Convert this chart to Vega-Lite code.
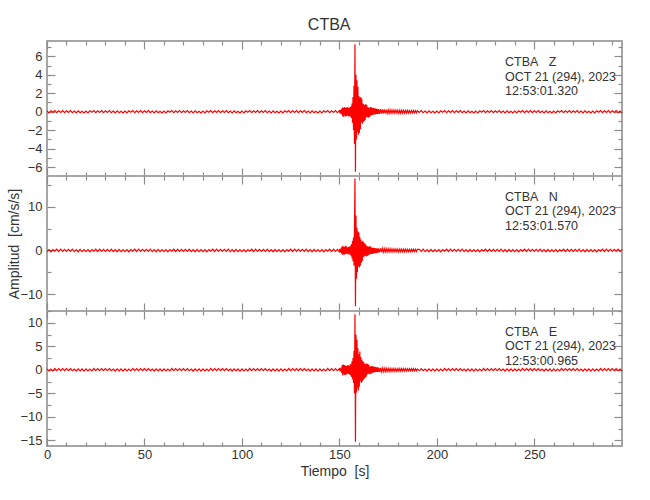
{
"$schema": "https://vega.github.io/schema/vega-lite/v6.json",
"title": {"text": "CTBA", "fontSize": 16, "font": "Liberation Sans", "fontWeight": "normal", "color": "#333333", "offset": 6, "anchor": "middle", "dx": 13},
"padding": {"left": 6, "top": 17, "right": 20, "bottom": 10},
"spacing": 0,
"bounds": "flush",
"datasets": {"w": [
{"t":0,"z":0.08,"n":-0.25,"e":0.2},{"t":1,"z":-0.12,"n":0.2,"e":-0.25},{"t":2,"z":0.1,"n":-0.3,"e":0.15},{"t":3,"z":-0.06,"n":0.22,"e":-0.22},{"t":4,"z":0.13,"n":-0.18,"e":0.28},{"t":5,"z":-0.09,"n":0.28,"e":-0.18},{"t":6,"z":0.11,"n":-0.24,"e":0.24},{"t":7,"z":-0.07,"n":0.3,"e":-0.2},{"t":8,"z":0.12,"n":-0.2,"e":0.26},{"t":9,"z":-0.1,"n":0.26,"e":-0.16},
{"t":10,"z":0.11,"n":-0.2,"e":0.24},{"t":11,"z":-0.08,"n":0.27,"e":-0.17},{"t":12,"z":0.13,"n":-0.22,"e":0.27},{"t":13,"z":-0.1,"n":0.3,"e":-0.2},{"t":14,"z":0.07,"n":-0.26,"e":0.16},{"t":15,"z":-0.12,"n":0.19,"e":-0.26},{"t":16,"z":0.09,"n":-0.29,"e":0.21},{"t":17,"z":-0.11,"n":0.23,"e":-0.23},{"t":18,"z":0.06,"n":-0.27,"e":0.18},{"t":19,"z":-0.13,"n":0.21,"e":-0.27},
{"t":20,"z":0.08,"n":-0.25,"e":0.2},{"t":21,"z":-0.12,"n":0.2,"e":-0.25},{"t":22,"z":0.1,"n":-0.3,"e":0.15},{"t":23,"z":-0.06,"n":0.22,"e":-0.22},{"t":24,"z":0.13,"n":-0.18,"e":0.28},{"t":25,"z":-0.09,"n":0.28,"e":-0.18},{"t":26,"z":0.11,"n":-0.24,"e":0.24},{"t":27,"z":-0.07,"n":0.3,"e":-0.2},{"t":28,"z":0.12,"n":-0.2,"e":0.26},{"t":29,"z":-0.1,"n":0.26,"e":-0.16},
{"t":30,"z":0.11,"n":-0.2,"e":0.24},{"t":31,"z":-0.08,"n":0.27,"e":-0.17},{"t":32,"z":0.13,"n":-0.22,"e":0.27},{"t":33,"z":-0.1,"n":0.3,"e":-0.2},{"t":34,"z":0.07,"n":-0.26,"e":0.16},{"t":35,"z":-0.12,"n":0.19,"e":-0.26},{"t":36,"z":0.09,"n":-0.29,"e":0.21},{"t":37,"z":-0.11,"n":0.23,"e":-0.23},{"t":38,"z":0.06,"n":-0.27,"e":0.18},{"t":39,"z":-0.13,"n":0.21,"e":-0.27},
{"t":40,"z":0.08,"n":-0.25,"e":0.2},{"t":41,"z":-0.12,"n":0.2,"e":-0.25},{"t":42,"z":0.1,"n":-0.3,"e":0.15},{"t":43,"z":-0.06,"n":0.22,"e":-0.22},{"t":44,"z":0.13,"n":-0.18,"e":0.28},{"t":45,"z":-0.09,"n":0.28,"e":-0.18},{"t":46,"z":0.11,"n":-0.24,"e":0.24},{"t":47,"z":-0.07,"n":0.3,"e":-0.2},{"t":48,"z":0.12,"n":-0.2,"e":0.26},{"t":49,"z":-0.1,"n":0.26,"e":-0.16},
{"t":50,"z":0.11,"n":-0.2,"e":0.24},{"t":51,"z":-0.08,"n":0.27,"e":-0.17},{"t":52,"z":0.13,"n":-0.22,"e":0.27},{"t":53,"z":-0.1,"n":0.3,"e":-0.2},{"t":54,"z":0.07,"n":-0.26,"e":0.16},{"t":55,"z":-0.12,"n":0.19,"e":-0.26},{"t":56,"z":0.09,"n":-0.29,"e":0.21},{"t":57,"z":-0.11,"n":0.23,"e":-0.23},{"t":58,"z":0.06,"n":-0.27,"e":0.18},{"t":59,"z":-0.13,"n":0.21,"e":-0.27},
{"t":60,"z":0.08,"n":-0.25,"e":0.2},{"t":61,"z":-0.12,"n":0.2,"e":-0.25},{"t":62,"z":0.1,"n":-0.3,"e":0.15},{"t":63,"z":-0.06,"n":0.22,"e":-0.22},{"t":64,"z":0.13,"n":-0.18,"e":0.28},{"t":65,"z":-0.09,"n":0.28,"e":-0.18},{"t":66,"z":0.11,"n":-0.24,"e":0.24},{"t":67,"z":-0.07,"n":0.3,"e":-0.2},{"t":68,"z":0.12,"n":-0.2,"e":0.26},{"t":69,"z":-0.1,"n":0.26,"e":-0.16},
{"t":70,"z":0.11,"n":-0.2,"e":0.24},{"t":71,"z":-0.08,"n":0.27,"e":-0.17},{"t":72,"z":0.13,"n":-0.22,"e":0.27},{"t":73,"z":-0.1,"n":0.3,"e":-0.2},{"t":74,"z":0.07,"n":-0.26,"e":0.16},{"t":75,"z":-0.12,"n":0.19,"e":-0.26},{"t":76,"z":0.09,"n":-0.29,"e":0.21},{"t":77,"z":-0.11,"n":0.23,"e":-0.23},{"t":78,"z":0.06,"n":-0.27,"e":0.18},{"t":79,"z":-0.13,"n":0.21,"e":-0.27},
{"t":80,"z":0.08,"n":-0.25,"e":0.2},{"t":81,"z":-0.12,"n":0.2,"e":-0.25},{"t":82,"z":0.1,"n":-0.3,"e":0.15},{"t":83,"z":-0.06,"n":0.22,"e":-0.22},{"t":84,"z":0.13,"n":-0.18,"e":0.28},{"t":85,"z":-0.09,"n":0.28,"e":-0.18},{"t":86,"z":0.11,"n":-0.24,"e":0.24},{"t":87,"z":-0.07,"n":0.3,"e":-0.2},{"t":88,"z":0.12,"n":-0.2,"e":0.26},{"t":89,"z":-0.1,"n":0.26,"e":-0.16},
{"t":90,"z":0.11,"n":-0.2,"e":0.24},{"t":91,"z":-0.08,"n":0.27,"e":-0.17},{"t":92,"z":0.13,"n":-0.22,"e":0.27},{"t":93,"z":-0.1,"n":0.3,"e":-0.2},{"t":94,"z":0.07,"n":-0.26,"e":0.16},{"t":95,"z":-0.12,"n":0.19,"e":-0.26},{"t":96,"z":0.09,"n":-0.29,"e":0.21},{"t":97,"z":-0.11,"n":0.23,"e":-0.23},{"t":98,"z":0.06,"n":-0.27,"e":0.18},{"t":99,"z":-0.13,"n":0.21,"e":-0.27},
{"t":100,"z":0.08,"n":-0.25,"e":0.2},{"t":101,"z":-0.12,"n":0.2,"e":-0.25},{"t":102,"z":0.1,"n":-0.3,"e":0.15},{"t":103,"z":-0.06,"n":0.22,"e":-0.22},{"t":104,"z":0.13,"n":-0.18,"e":0.28},{"t":105,"z":-0.09,"n":0.28,"e":-0.18},{"t":106,"z":0.11,"n":-0.24,"e":0.24},{"t":107,"z":-0.07,"n":0.3,"e":-0.2},{"t":108,"z":0.12,"n":-0.2,"e":0.26},{"t":109,"z":-0.1,"n":0.26,"e":-0.16},
{"t":110,"z":0.11,"n":-0.2,"e":0.24},{"t":111,"z":-0.08,"n":0.27,"e":-0.17},{"t":112,"z":0.13,"n":-0.22,"e":0.27},{"t":113,"z":-0.1,"n":0.3,"e":-0.2},{"t":114,"z":0.07,"n":-0.26,"e":0.16},{"t":115,"z":-0.12,"n":0.19,"e":-0.26},{"t":116,"z":0.09,"n":-0.29,"e":0.21},{"t":117,"z":-0.11,"n":0.23,"e":-0.23},{"t":118,"z":0.06,"n":-0.27,"e":0.18},{"t":119,"z":-0.13,"n":0.21,"e":-0.27},
{"t":120,"z":0.08,"n":-0.25,"e":0.2},{"t":121,"z":-0.12,"n":0.2,"e":-0.25},{"t":122,"z":0.1,"n":-0.3,"e":0.15},{"t":123,"z":-0.06,"n":0.22,"e":-0.22},{"t":124,"z":0.13,"n":-0.18,"e":0.28},{"t":125,"z":-0.09,"n":0.28,"e":-0.18},{"t":126,"z":0.11,"n":-0.24,"e":0.24},{"t":127,"z":-0.07,"n":0.3,"e":-0.2},{"t":128,"z":0.12,"n":-0.2,"e":0.26},{"t":129,"z":-0.1,"n":0.26,"e":-0.16},
{"t":130,"z":0.11,"n":-0.2,"e":0.24},{"t":131,"z":-0.08,"n":0.27,"e":-0.17},{"t":132,"z":0.13,"n":-0.22,"e":0.27},{"t":133,"z":-0.1,"n":0.3,"e":-0.2},{"t":134,"z":0.07,"n":-0.26,"e":0.16},{"t":135,"z":-0.12,"n":0.19,"e":-0.26},{"t":136,"z":0.09,"n":-0.29,"e":0.21},{"t":137,"z":-0.11,"n":0.23,"e":-0.23},{"t":138,"z":0.06,"n":-0.27,"e":0.18},{"t":139,"z":-0.13,"n":0.21,"e":-0.27},
{"t":140,"z":0.08,"n":-0.25,"e":0.2},{"t":141,"z":-0.12,"n":0.2,"e":-0.25},{"t":142,"z":0.1,"n":-0.3,"e":0.15},{"t":143,"z":-0.06,"n":0.22,"e":-0.22},{"t":144,"z":0.13,"n":-0.18,"e":0.28},{"t":145,"z":-0.09,"n":0.28,"e":-0.18},{"t":146,"z":0.11,"n":-0.24,"e":0.24},{"t":147,"z":-0.07,"n":0.3,"e":-0.2},{"t":148,"z":0.12,"n":-0.2,"e":0.26},{"t":149,"z":-0.1,"n":0.26,"e":-0.16},
{"t":150,"z":0.12,"n":-0.3,"e":0.25},{"t":150.25,"z":-0.15,"n":0.35,"e":-0.3},{"t":150.5,"z":0.18,"n":-0.4,"e":0.3},{"t":150.75,"z":-0.2,"n":0.45,"e":-0.35},
{"t":151,"z":0.25,"n":-0.6,"e":0.5},{"t":151.25,"z":-0.3,"n":0.8,"e":-0.7},{"t":151.5,"z":0.45,"n":-1.0,"e":1.0},{"t":151.75,"z":-0.5,"n":1.1,"e":-1.2},
{"t":152,"z":0.4,"n":-0.9,"e":1.1},{"t":152.25,"z":-0.55,"n":0.8,"e":-0.9},{"t":152.5,"z":0.5,"n":-1.0,"e":1.0},{"t":152.75,"z":-0.4,"n":0.9,"e":-1.1},
{"t":153,"z":0.45,"n":-0.8,"e":0.9},{"t":153.25,"z":-0.5,"n":1.0,"e":-1.0},{"t":153.5,"z":0.4,"n":-0.7,"e":0.8},{"t":153.75,"z":-0.45,"n":0.9,"e":-1.0},
{"t":154,"z":0.5,"n":-0.8,"e":0.9},{"t":154.25,"z":-0.4,"n":0.7,"e":-0.8},{"t":154.5,"z":0.45,"n":-0.9,"e":1.0},{"t":154.75,"z":-0.5,"n":0.8,"e":-0.9},
{"t":155,"z":0.4,"n":-0.7,"e":0.8},{"t":155.25,"z":-0.45,"n":0.9,"e":-1.0},{"t":155.5,"z":0.5,"n":-1.0,"e":1.1},{"t":155.75,"z":-0.55,"n":1.1,"e":-1.2},
{"t":156,"z":0.6,"n":-1.2,"e":1.3},{"t":156.25,"z":-0.7,"n":1.5,"e":-1.5},{"t":156.5,"z":0.9,"n":-1.8,"e":1.8},{"t":156.75,"z":-1.2,"n":2.2,"e":-2.0},
{"t":157,"z":1.6,"n":-2.5,"e":2.5},{"t":157.25,"z":-2.0,"n":3.0,"e":-2.8},{"t":157.5,"z":2.8,"n":-3.5,"e":4.0},{"t":157.75,"z":-3.5,"n":5.0,"e":-5.0},
{"t":158,"z":7.3,"n":16.5,"e":11.8},{"t":158.25,"z":-6.5,"n":-12.8,"e":-15.3},{"t":158.5,"z":4.0,"n":8.0,"e":7.5},{"t":158.75,"z":-3.0,"n":-6.5,"e":-4.8},
{"t":159,"z":3.4,"n":5.2,"e":6.4},{"t":159.25,"z":-2.2,"n":-5.0,"e":-3.9},{"t":159.5,"z":2.7,"n":4.4,"e":4.6},{"t":159.75,"z":-2.5,"n":-3.6,"e":-4.4},
{"t":160,"z":1.7,"n":4.1,"e":3.3},{"t":160.25,"z":-2.3,"n":-3.9,"e":-3.6},{"t":160.5,"z":1.5,"n":3.1,"e":3.9},{"t":160.75,"z":-1.9,"n":-3.5,"e":-2.4},
{"t":161,"z":1.6,"n":2.5,"e":2.7},{"t":161.25,"z":-1.1,"n":-2.9,"e":-2.8},{"t":161.5,"z":1.4,"n":2.0,"e":2.2},{"t":161.75,"z":-1.3,"n":-2.4,"e":-2.5},
{"t":162,"z":0.9,"n":2.2,"e":1.8},{"t":162.25,"z":-1.1,"n":-1.5,"e":-2.1},{"t":162.5,"z":0.8,"n":1.9,"e":1.6},{"t":162.75,"z":-1.0,"n":-1.4,"e":-1.9},
{"t":163,"z":0.7,"n":1.6,"e":1.3},{"t":163.25,"z":-0.9,"n":-1.2,"e":-1.7},{"t":163.5,"z":0.8,"n":1.45,"e":1.2},{"t":163.75,"z":-0.55,"n":-1.35,"e":-1.45},
{"t":164,"z":0.75,"n":1.0,"e":1.35},{"t":164.25,"z":-0.6,"n":-1.25,"e":-1.0},{"t":164.5,"z":0.5,"n":0.95,"e":1.2},{"t":164.75,"z":-0.65,"n":-1.1,"e":-0.9},
{"t":165,"z":0.45,"n":0.85,"e":1.1},{"t":165.25,"z":-0.6,"n":-1.0,"e":-0.8},{"t":165.5,"z":0.42,"n":0.95,"e":0.75},{"t":165.75,"z":-0.52,"n":-0.75,"e":-0.95},
{"t":166,"z":0.5,"n":0.9,"e":0.7},{"t":166.25,"z":-0.38,"n":-0.85,"e":-0.85},{"t":166.5,"z":0.46,"n":0.68,"e":0.78},{"t":166.75,"z":-0.35,"n":-0.8,"e":-0.62},
{"t":167,"z":0.42,"n":0.62,"e":0.76},{"t":167.25,"z":-0.33,"n":-0.72,"e":-0.6},{"t":167.5,"z":0.4,"n":0.6,"e":0.68},{"t":167.75,"z":-0.3,"n":-0.66,"e":-0.58},
{"t":168,"z":0.37,"n":0.56,"e":0.62},{"t":168.25,"z":-0.28,"n":-0.62,"e":-0.5},{"t":168.5,"z":0.34,"n":0.52,"e":0.58},{"t":168.75,"z":-0.27,"n":-0.6,"e":-0.48},
{"t":169,"z":0.32,"n":0.48,"e":0.55},{"t":169.25,"z":-0.25,"n":-0.56,"e":-0.45},{"t":169.5,"z":0.3,"n":0.46,"e":0.52},{"t":169.75,"z":-0.24,"n":-0.52,"e":-0.43},
{"t":170,"z":0.28,"n":0.5,"e":0.46},{"t":170.5,"z":-0.22,"n":-0.42,"e":-0.45},{"t":171,"z":0.27,"n":0.48,"e":0.38},{"t":171.5,"z":-0.2,"n":-0.4,"e":-0.43},
{"t":172,"z":0.26,"n":0.46,"e":0.36},{"t":172.5,"z":-0.19,"n":-0.38,"e":-0.41},{"t":173,"z":0.24,"n":0.44,"e":0.34},{"t":173.5,"z":-0.18,"n":-0.37,"e":-0.39},
{"t":174,"z":0.23,"n":0.42,"e":0.32},{"t":174.5,"z":-0.18,"n":-0.35,"e":-0.37},{"t":175,"z":0.21,"n":0.4,"e":0.3},{"t":175.5,"z":-0.17,"n":-0.34,"e":-0.35},
{"t":176,"z":0.2,"n":0.38,"e":0.29},{"t":176.5,"z":-0.16,"n":-0.32,"e":-0.34},{"t":177,"z":0.19,"n":0.36,"e":0.27},{"t":177.5,"z":-0.15,"n":-0.31,"e":-0.32},
{"t":178,"z":0.18,"n":0.34,"e":0.26},{"t":178.5,"z":-0.15,"n":-0.3,"e":-0.31},{"t":179,"z":0.17,"n":0.32,"e":0.25},{"t":179.5,"z":-0.14,"n":-0.29,"e":-0.3},
{"t":180,"z":0.16,"n":0.3,"e":0.24},{"t":180.5,"z":-0.17,"n":-0.32,"e":-0.28},{"t":181,"z":0.16,"n":0.31,"e":0.27},{"t":181.5,"z":-0.16,"n":-0.31,"e":-0.27},
{"t":182,"z":0.16,"n":0.3,"e":0.26},{"t":182.5,"z":-0.15,"n":-0.3,"e":-0.26},{"t":183,"z":0.15,"n":0.29,"e":0.25},{"t":183.5,"z":-0.15,"n":-0.29,"e":-0.25},
{"t":184,"z":0.14,"n":0.28,"e":0.24},{"t":184.5,"z":-0.14,"n":-0.28,"e":-0.24},{"t":185,"z":0.14,"n":0.28,"e":0.23},{"t":185.5,"z":-0.14,"n":-0.27,"e":-0.23},
{"t":186,"z":0.13,"n":0.27,"e":0.23},{"t":186.5,"z":-0.13,"n":-0.27,"e":-0.22},{"t":187,"z":0.13,"n":0.26,"e":0.22},{"t":187.5,"z":-0.13,"n":-0.26,"e":-0.22},
{"t":188,"z":0.12,"n":0.26,"e":0.22},{"t":188.5,"z":-0.12,"n":-0.25,"e":-0.21},{"t":189,"z":0.12,"n":0.25,"e":0.21},{"t":189.5,"z":-0.12,"n":-0.25,"e":-0.21},
{"t":190,"z":0.11,"n":0.24,"e":0.2},
{"t":191,"z":-0.08,"n":0.27,"e":-0.17},{"t":192,"z":0.13,"n":-0.22,"e":0.27},{"t":193,"z":-0.1,"n":0.3,"e":-0.2},{"t":194,"z":0.07,"n":-0.26,"e":0.16},{"t":195,"z":-0.12,"n":0.19,"e":-0.26},{"t":196,"z":0.09,"n":-0.29,"e":0.21},{"t":197,"z":-0.11,"n":0.23,"e":-0.23},{"t":198,"z":0.06,"n":-0.27,"e":0.18},{"t":199,"z":-0.13,"n":0.21,"e":-0.27},
{"t":200,"z":0.08,"n":-0.25,"e":0.2},{"t":201,"z":-0.12,"n":0.2,"e":-0.25},{"t":202,"z":0.1,"n":-0.3,"e":0.15},{"t":203,"z":-0.06,"n":0.22,"e":-0.22},{"t":204,"z":0.13,"n":-0.18,"e":0.28},{"t":205,"z":-0.09,"n":0.28,"e":-0.18},{"t":206,"z":0.11,"n":-0.24,"e":0.24},{"t":207,"z":-0.07,"n":0.3,"e":-0.2},{"t":208,"z":0.12,"n":-0.2,"e":0.26},{"t":209,"z":-0.1,"n":0.26,"e":-0.16},
{"t":210,"z":0.11,"n":-0.2,"e":0.24},{"t":211,"z":-0.08,"n":0.27,"e":-0.17},{"t":212,"z":0.13,"n":-0.22,"e":0.27},{"t":213,"z":-0.1,"n":0.3,"e":-0.2},{"t":214,"z":0.07,"n":-0.26,"e":0.16},{"t":215,"z":-0.12,"n":0.19,"e":-0.26},{"t":216,"z":0.09,"n":-0.29,"e":0.21},{"t":217,"z":-0.11,"n":0.23,"e":-0.23},{"t":218,"z":0.06,"n":-0.27,"e":0.18},{"t":219,"z":-0.13,"n":0.21,"e":-0.27},
{"t":220,"z":0.08,"n":-0.25,"e":0.2},{"t":221,"z":-0.12,"n":0.2,"e":-0.25},{"t":222,"z":0.1,"n":-0.3,"e":0.15},{"t":223,"z":-0.06,"n":0.22,"e":-0.22},{"t":224,"z":0.13,"n":-0.18,"e":0.28},{"t":225,"z":-0.09,"n":0.28,"e":-0.18},{"t":226,"z":0.11,"n":-0.24,"e":0.24},{"t":227,"z":-0.07,"n":0.3,"e":-0.2},{"t":228,"z":0.12,"n":-0.2,"e":0.26},{"t":229,"z":-0.1,"n":0.26,"e":-0.16},
{"t":230,"z":0.11,"n":-0.2,"e":0.24},{"t":231,"z":-0.08,"n":0.27,"e":-0.17},{"t":232,"z":0.13,"n":-0.22,"e":0.27},{"t":233,"z":-0.1,"n":0.3,"e":-0.2},{"t":234,"z":0.07,"n":-0.26,"e":0.16},{"t":235,"z":-0.12,"n":0.19,"e":-0.26},{"t":236,"z":0.09,"n":-0.29,"e":0.21},{"t":237,"z":-0.11,"n":0.23,"e":-0.23},{"t":238,"z":0.06,"n":-0.27,"e":0.18},{"t":239,"z":-0.13,"n":0.21,"e":-0.27},
{"t":240,"z":0.08,"n":-0.25,"e":0.2},{"t":241,"z":-0.12,"n":0.2,"e":-0.25},{"t":242,"z":0.1,"n":-0.3,"e":0.15},{"t":243,"z":-0.06,"n":0.22,"e":-0.22},{"t":244,"z":0.13,"n":-0.18,"e":0.28},{"t":245,"z":-0.09,"n":0.28,"e":-0.18},{"t":246,"z":0.11,"n":-0.24,"e":0.24},{"t":247,"z":-0.07,"n":0.3,"e":-0.2},{"t":248,"z":0.12,"n":-0.2,"e":0.26},{"t":249,"z":-0.1,"n":0.26,"e":-0.16},
{"t":250,"z":0.11,"n":-0.2,"e":0.24},{"t":251,"z":-0.08,"n":0.27,"e":-0.17},{"t":252,"z":0.13,"n":-0.22,"e":0.27},{"t":253,"z":-0.1,"n":0.3,"e":-0.2},{"t":254,"z":0.07,"n":-0.26,"e":0.16},{"t":255,"z":-0.12,"n":0.19,"e":-0.26},{"t":256,"z":0.09,"n":-0.29,"e":0.21},{"t":257,"z":-0.11,"n":0.23,"e":-0.23},{"t":258,"z":0.06,"n":-0.27,"e":0.18},{"t":259,"z":-0.13,"n":0.21,"e":-0.27},
{"t":260,"z":0.08,"n":-0.25,"e":0.2},{"t":261,"z":-0.12,"n":0.2,"e":-0.25},{"t":262,"z":0.1,"n":-0.3,"e":0.15},{"t":263,"z":-0.06,"n":0.22,"e":-0.22},{"t":264,"z":0.13,"n":-0.18,"e":0.28},{"t":265,"z":-0.09,"n":0.28,"e":-0.18},{"t":266,"z":0.11,"n":-0.24,"e":0.24},{"t":267,"z":-0.07,"n":0.3,"e":-0.2},{"t":268,"z":0.12,"n":-0.2,"e":0.26},{"t":269,"z":-0.1,"n":0.26,"e":-0.16},
{"t":270,"z":0.11,"n":-0.2,"e":0.24},{"t":271,"z":-0.08,"n":0.27,"e":-0.17},{"t":272,"z":0.13,"n":-0.22,"e":0.27},{"t":273,"z":-0.1,"n":0.3,"e":-0.2},{"t":274,"z":0.07,"n":-0.26,"e":0.16},{"t":275,"z":-0.12,"n":0.19,"e":-0.26},{"t":276,"z":0.09,"n":-0.29,"e":0.21},{"t":277,"z":-0.11,"n":0.23,"e":-0.23},{"t":278,"z":0.06,"n":-0.27,"e":0.18},{"t":279,"z":-0.13,"n":0.21,"e":-0.27},
{"t":280,"z":0.08,"n":-0.25,"e":0.2},{"t":281,"z":-0.12,"n":0.2,"e":-0.25},{"t":282,"z":0.1,"n":-0.3,"e":0.15},{"t":283,"z":-0.06,"n":0.22,"e":-0.22},{"t":284,"z":0.13,"n":-0.18,"e":0.28},{"t":285,"z":-0.09,"n":0.28,"e":-0.18},{"t":286,"z":0.11,"n":-0.24,"e":0.24},{"t":287,"z":-0.07,"n":0.3,"e":-0.2},{"t":288,"z":0.12,"n":-0.2,"e":0.26},{"t":289,"z":-0.1,"n":0.26,"e":-0.16},
{"t":290,"z":0.11,"n":-0.2,"e":0.24},{"t":291,"z":-0.08,"n":0.27,"e":-0.17},{"t":292,"z":0.13,"n":-0.22,"e":0.27},{"t":293,"z":-0.1,"n":0.3,"e":-0.2},{"t":294,"z":0.07,"n":-0.26,"e":0.16},{"t":295,"z":-0.12,"n":0.19,"e":-0.26}
]},
"data": {"name": "w"},
"vconcat": [
{
"width": 575, "height": 135,
"resolve": {"axis": {"x": "independent", "y": "independent"}},
"layer": [
{"mark": {"type": "line", "color": "#ff0000", "strokeWidth": 1.2},
 "encoding": {
  "x": {"field": "t", "type": "quantitative", "scale": {"domain": [0, 295], "nice": false, "zero": false}, "axis": {"orient": "bottom", "values": [0, 50, 100, 150, 200, 250], "tickSize": -8, "labels": false, "title": null}},
  "y": {"field": "z", "type": "quantitative", "scale": {"domain": [-6.95, 7.65], "nice": false, "zero": false}, "axis": {"orient": "left", "values": [-6, -4, -2, 0, 2, 4, 6], "tickSize": -8, "labelPadding": 13, "title": null}}}},
{"transform": [{"filter": "datum.t == 0"}], "mark": {"type": "point", "opacity": 0},
 "encoding": {
  "x": {"field": "t", "type": "quantitative", "axis": {"orient": "top", "values": [0, 50, 100, 150, 200, 250], "tickSize": -8, "labels": false, "title": null}},
  "y": {"field": "z", "type": "quantitative", "axis": {"orient": "right", "values": [-6, -4, -2, 0, 2, 4, 6], "tickSize": -8, "labels": false, "title": null}}}},
{"transform": [{"filter": "datum.t == 0"}], "mark": {"type": "point", "opacity": 0},
 "encoding": {
  "x": {"field": "t", "type": "quantitative", "axis": {"orient": "bottom", "values": [10, 20, 30, 40, 60, 70, 80, 90, 110, 120, 130, 140, 160, 170, 180, 190, 210, 220, 230, 240, 260, 270, 280, 290], "tickSize": -4, "labels": false, "title": null}},
  "y": {"field": "z", "type": "quantitative", "axis": {"orient": "left", "values": [-7, -5, -3, -1, 1, 3, 5, 7], "tickSize": -4, "labels": false, "title": null}}}},
{"transform": [{"filter": "datum.t == 0"}], "mark": {"type": "point", "opacity": 0},
 "encoding": {
  "x": {"field": "t", "type": "quantitative", "axis": {"orient": "top", "values": [10, 20, 30, 40, 60, 70, 80, 90, 110, 120, 130, 140, 160, 170, 180, 190, 210, 220, 230, 240, 260, 270, 280, 290], "tickSize": -4, "labels": false, "title": null}},
  "y": {"field": "z", "type": "quantitative", "axis": {"orient": "right", "values": [-7, -5, -3, -1, 1, 3, 5, 7], "tickSize": -4, "labels": false, "title": null}}}},
{"data": {"values": [{}]},
 "mark": {"type": "text", "align": "left", "baseline": "top", "font": "Liberation Sans", "fontSize": 12.5, "lineHeight": 14.5, "color": "#333333", "lineBreak": "\n"},
 "encoding": {
  "x": {"datum": 235, "type": "quantitative", "axis": null},
  "y": {"datum": 6.0, "type": "quantitative", "axis": null},
  "text": {"value": "CTBA\u00a0\u00a0\u00a0Z\nOCT 21 (294), 2023\n12:53:01.320"}}}
]
},
{
"width": 575, "height": 135,
"resolve": {"axis": {"x": "independent", "y": "independent"}},
"layer": [
{"mark": {"type": "line", "color": "#ff0000", "strokeWidth": 1.2},
 "encoding": {
  "x": {"field": "t", "type": "quantitative", "scale": {"domain": [0, 295], "nice": false, "zero": false}, "axis": {"orient": "bottom", "values": [0, 50, 100, 150, 200, 250], "tickSize": -8, "labels": false, "title": null}},
  "y": {"field": "n", "type": "quantitative", "scale": {"domain": [-13.9, 17.1], "nice": false, "zero": false}, "axis": {"orient": "left", "values": [-10, 0, 10], "tickSize": -8, "labelPadding": 13, "title": "Amplitud\u00a0 [cm/s/s]", "titlePadding": -2}}}},
{"transform": [{"filter": "datum.t == 0"}], "mark": {"type": "point", "opacity": 0},
 "encoding": {
  "x": {"field": "t", "type": "quantitative", "axis": {"orient": "top", "values": [0, 50, 100, 150, 200, 250], "tickSize": -8, "labels": false, "title": null}},
  "y": {"field": "n", "type": "quantitative", "axis": {"orient": "right", "values": [-10, 0, 10], "tickSize": -8, "labels": false, "title": null}}}},
{"transform": [{"filter": "datum.t == 0"}], "mark": {"type": "point", "opacity": 0},
 "encoding": {
  "x": {"field": "t", "type": "quantitative", "axis": {"orient": "bottom", "values": [10, 20, 30, 40, 60, 70, 80, 90, 110, 120, 130, 140, 160, 170, 180, 190, 210, 220, 230, 240, 260, 270, 280, 290], "tickSize": -4, "labels": false, "title": null}},
  "y": {"field": "n", "type": "quantitative", "axis": {"orient": "left", "values": [-5, 5, 15], "tickSize": -4, "labels": false, "title": null}}}},
{"transform": [{"filter": "datum.t == 0"}], "mark": {"type": "point", "opacity": 0},
 "encoding": {
  "x": {"field": "t", "type": "quantitative", "axis": {"orient": "top", "values": [10, 20, 30, 40, 60, 70, 80, 90, 110, 120, 130, 140, 160, 170, 180, 190, 210, 220, 230, 240, 260, 270, 280, 290], "tickSize": -4, "labels": false, "title": null}},
  "y": {"field": "n", "type": "quantitative", "axis": {"orient": "right", "values": [-5, 5, 15], "tickSize": -4, "labels": false, "title": null}}}},
{"data": {"values": [{}]},
 "mark": {"type": "text", "align": "left", "baseline": "top", "font": "Liberation Sans", "fontSize": 12.5, "lineHeight": 14.5, "color": "#333333", "lineBreak": "\n"},
 "encoding": {
  "x": {"datum": 235, "type": "quantitative", "axis": null},
  "y": {"datum": 13.75, "type": "quantitative", "axis": null},
  "text": {"value": "CTBA\u00a0\u00a0\u00a0N\nOCT 21 (294), 2023\n12:53:01.570"}}}
]
},
{
"width": 575, "height": 135,
"resolve": {"axis": {"x": "independent", "y": "independent"}},
"layer": [
{"mark": {"type": "line", "color": "#ff0000", "strokeWidth": 1.2},
 "encoding": {
  "x": {"field": "t", "type": "quantitative", "scale": {"domain": [0, 295], "nice": false, "zero": false}, "axis": {"orient": "bottom", "values": [0, 50, 100, 150, 200, 250], "tickSize": -8, "labelPadding": 10, "labelFlush": false, "title": "Tiempo\u00a0 [s]", "titlePadding": 3}},
  "y": {"field": "e", "type": "quantitative", "scale": {"domain": [-16.2, 12.5], "nice": false, "zero": false}, "axis": {"orient": "left", "values": [-15, -10, -5, 0, 5, 10], "tickSize": -8, "labelPadding": 13, "title": null}}}},
{"transform": [{"filter": "datum.t == 0"}], "mark": {"type": "point", "opacity": 0},
 "encoding": {
  "x": {"field": "t", "type": "quantitative", "axis": {"orient": "top", "values": [0, 50, 100, 150, 200, 250], "tickSize": -8, "labels": false, "title": null}},
  "y": {"field": "e", "type": "quantitative", "axis": {"orient": "right", "values": [-15, -10, -5, 0, 5, 10], "tickSize": -8, "labels": false, "title": null}}}},
{"transform": [{"filter": "datum.t == 0"}], "mark": {"type": "point", "opacity": 0},
 "encoding": {
  "x": {"field": "t", "type": "quantitative", "axis": {"orient": "bottom", "values": [10, 20, 30, 40, 60, 70, 80, 90, 110, 120, 130, 140, 160, 170, 180, 190, 210, 220, 230, 240, 260, 270, 280, 290], "tickSize": -4, "labels": false, "title": null}},
  "y": {"field": "e", "type": "quantitative", "axis": {"orient": "left", "values": [-12.5, -7.5, -2.5, 2.5, 7.5, 12.5], "tickSize": -4, "labels": false, "title": null}}}},
{"transform": [{"filter": "datum.t == 0"}], "mark": {"type": "point", "opacity": 0},
 "encoding": {
  "x": {"field": "t", "type": "quantitative", "axis": {"orient": "top", "values": [10, 20, 30, 40, 60, 70, 80, 90, 110, 120, 130, 140, 160, 170, 180, 190, 210, 220, 230, 240, 260, 270, 280, 290], "tickSize": -4, "labels": false, "title": null}},
  "y": {"field": "e", "type": "quantitative", "axis": {"orient": "right", "values": [-12.5, -7.5, -2.5, 2.5, 7.5, 12.5], "tickSize": -4, "labels": false, "title": null}}}},
{"data": {"values": [{}]},
 "mark": {"type": "text", "align": "left", "baseline": "top", "font": "Liberation Sans", "fontSize": 12.5, "lineHeight": 14.5, "color": "#333333", "lineBreak": "\n"},
 "encoding": {
  "x": {"datum": 235, "type": "quantitative", "axis": null},
  "y": {"datum": 9.36, "type": "quantitative", "axis": null},
  "text": {"value": "CTBA\u00a0\u00a0\u00a0E\nOCT 21 (294), 2023\n12:53:00.965"}}}
]
}
],
"config": {
 "view": {"stroke": "#a6a6a6", "strokeWidth": 2},
 "axis": {"domain": false, "grid": false, "tickColor": "#8c8c8c", "tickWidth": 1.2, "labelFont": "Liberation Sans", "labelFontSize": 13, "labelColor": "#333333", "titleFont": "Liberation Sans", "titleFontSize": 14, "titleFontWeight": "normal", "titleColor": "#333333"}
}
}
